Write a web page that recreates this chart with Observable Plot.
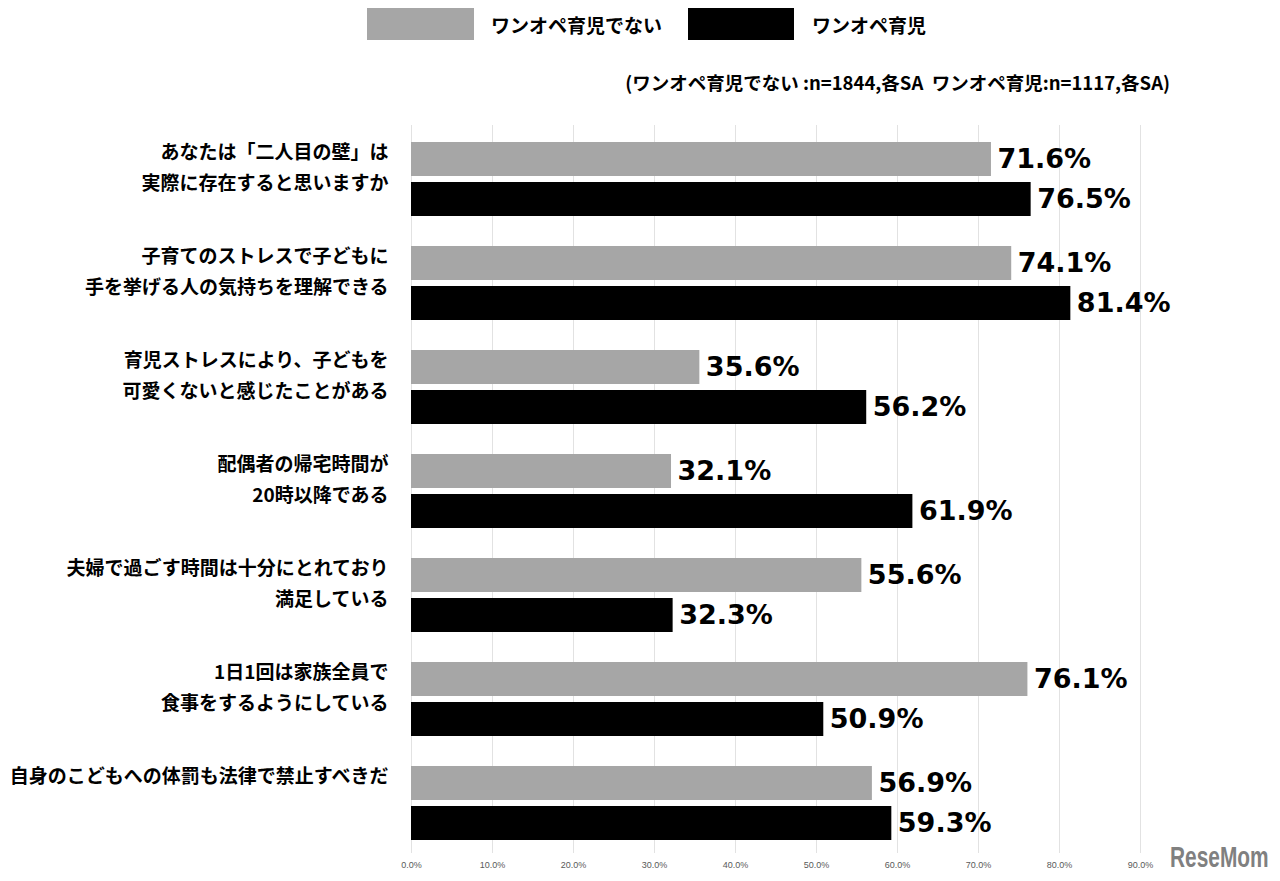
<!DOCTYPE html>
<html>
<head>
<meta charset="utf-8">
<script src="https://cdn.jsdelivr.net/npm/d3@7"></script>
<script src="https://cdn.jsdelivr.net/npm/@observablehq/plot@0.6"></script>
<style>
  html, body { margin: 0; padding: 0; background: #fff; }
  #page { position: relative; width: 1280px; height: 881px; overflow: hidden; }
  #head { position: relative; width: 1280px; height: 100px; font-family: "Noto Sans CJK JP", sans-serif; font-weight: bold; }
  .sw { position: absolute; top: 8px; height: 32px; }
  .lt { position: absolute; top: 24px; transform: translateY(-50%); font-size: 19px; line-height: 1; color: #000; white-space: nowrap; }
  #note { position: absolute; right: 110px; top: 82px; transform: translateY(-50%); font-size: 18.5px; line-height: 1; white-space: nowrap; }
  #mark { position: absolute; left: 1170px; top: 843px; font-family: "Liberation Sans", sans-serif; font-weight: bold; font-size: 29px; color: #808080; line-height: 1; transform: scaleX(0.72); transform-origin: left center; white-space: nowrap; }
</style>
</head>
<body>
<div id="page">
  <div id="head"></div>
  <div id="chart"></div>
  <div id="mark">ReseMom</div>
</div>
<script>
// ---- data ----
const categories = [
  "あなたは「二人目の壁」は\n実際に存在すると思いますか",
  "子育てのストレスで子どもに\n手を挙げる人の気持ちを理解できる",
  "育児ストレスにより、子どもを\n可愛くないと感じたことがある",
  "配偶者の帰宅時間が\n20時以降である",
  "夫婦で過ごす時間は十分にとれており\n満足している",
  "1日1回は家族全員で\n食事をするようにしている",
  "自身のこどもへの体罰も法律で禁止すべきだ"
];
const seriesNames = ["ワンオペ育児でない", "ワンオペ育児"];
const notOneOpe = [71.6, 74.1, 35.6, 32.1, 55.6, 76.1, 56.9];
const oneOpe = [76.5, 81.4, 56.2, 61.9, 32.3, 50.9, 59.3];
const tickValues = [0, 10, 20, 30, 40, 50, 60, 70, 80, 90];
const seriesColors = ["#a6a6a6", "#000000"];
const noteText = "(ワンオペ育児でない :n=1844,各SA\u00a0\u00a0ワンオペ育児:n=1117,各SA)";

// ---- header (legend + note) ----
const head = document.getElementById("head");
const legendPos = [{sw: 367, w: 107, t: 491}, {sw: 688, w: 106, t: 812}];
seriesNames.forEach((s, i) => {
  const r = document.createElement("div");
  r.className = "sw";
  r.style.left = legendPos[i].sw + "px";
  r.style.width = legendPos[i].w + "px";
  r.style.background = seriesColors[i];
  head.appendChild(r);
  const t = document.createElement("div");
  t.className = "lt";
  t.style.left = legendPos[i].t + "px";
  t.textContent = s;
  head.appendChild(t);
});
const note = document.createElement("div");
note.id = "note";
note.textContent = noteText;
head.appendChild(note);

// ---- rows ----
const rows = [];
categories.forEach((c, i) => {
  rows.push({category: c, series: seriesNames[0], value: notOneOpe[i]});
  rows.push({category: c, series: seriesNames[1], value: oneOpe[i]});
});

const chart = Plot.plot({
  width: 1280,
  height: 781,
  marginTop: 23,
  marginBottom: 26,
  marginLeft: 411,
  marginRight: 140,
  style: {fontFamily: "'Liberation Sans Narrow', 'Liberation Sans', sans-serif", fontSize: "9px", color: "#595959", background: "transparent"},
  x: {domain: [0, 90], ticks: tickValues, tickFormat: d => d.toFixed(1) + "%", tickSize: 0, tickPadding: 8, label: null},
  fy: {domain: categories, padding: 0, axis: null, label: null},
  y: {domain: seriesNames, paddingInner: 0.146, paddingOuter: 0.349, align: 0.56, axis: null, label: null},
  color: {domain: seriesNames, range: seriesColors},
  marks: [
    Plot.ruleX(tickValues, {stroke: "#e2e2e2", strokeWidth: 1}),
    Plot.barX(rows, {x: "value", y: "series", fy: "category", fill: "series"}),
    Plot.text(rows, {
      x: "value", y: "series", fy: "category",
      text: d => d.value.toFixed(1) + "%",
      textAnchor: "start", dx: 6,
      fontSize: 27, fontWeight: "bold", fontFamily: "'DejaVu Sans', Verdana, sans-serif", fill: "#000"
    }),
    Plot.text(categories, {
      fy: d => d,
      frameAnchor: "left",
      text: d => d.includes("\n") ? d : d + "\n",
      textAnchor: "end", dx: -23, dy: -13,
      lineHeight: 1.62,
      fontSize: 19, fontWeight: "bold", fontFamily: "'Noto Sans CJK JP', sans-serif", fill: "#000"
    })
  ]
});
document.getElementById("chart").appendChild(chart);
</script>
</body>
</html>
